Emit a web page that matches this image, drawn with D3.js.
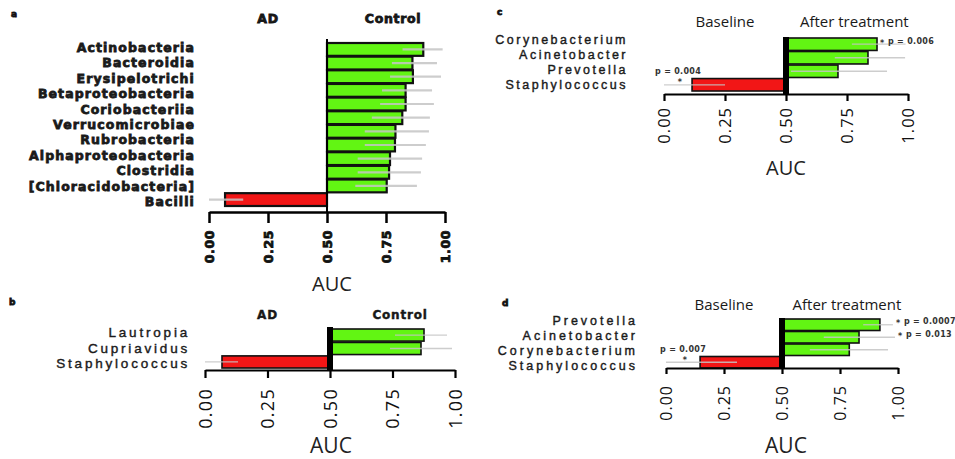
<!DOCTYPE html>
<html><head><meta charset="utf-8">
<script src="https://cdn.jsdelivr.net/npm/d3@7"></script>
<style>
html,body{margin:0;padding:0;background:#fff;}
svg{display:block;}
</style></head><body>
<svg id="chart" width="955" height="459"></svg>
<script>
// ---- a: class level, AD vs Control
const aLabels = ["Actinobacteria","Bacteroidia","Erysipelotrichi","Betaproteobacteria","Coriobacteriia","Verrucomicrobiae","Rubrobacteria","Alphaproteobacteria","Clostridia","[Chloracidobacteria]","Bacilli"];
const aAUC   = [0.908,0.862,0.864,0.833,0.833,0.819,0.790,0.788,0.767,0.763,0.753,0.068];
const aLower = [0.82,0.775,0.767,0.733,0.725,0.69,0.66,0.66,0.63,0.63,0.62,0.0];
const aUpper = [0.99,0.966,0.983,0.945,0.953,0.936,0.932,0.919,0.903,0.898,0.881,0.145];
const aGroups = ["AD","Control"];

// ---- b: genus level, AD vs Control
const bLabels = ["Lautropia","Cupriavidus","Staphylococcus"];
const bAUC   = [0.876,0.864,0.068];
const bLower = [0.76,0.74,0.0];
const bUpper = [0.968,0.988,0.132];
const bGroups = ["AD","Control"];

// ---- c: baseline vs after treatment
const cLabels = ["Corynebacterium","Acinetobacter","Prevotella","Staphylococcus"];
const cAUC   = [0.873,0.836,0.713,0.115];
const cLower = [0.77,0.70,0.52,0.0];
const cUpper = [0.99,0.988,0.914,0.25];
const cGroups = ["Baseline","After treatment"];
const cNotes = [{bar:0, text:"p = 0.006"},{bar:3, text:"p = 0.004"}];

// ---- d: baseline vs after treatment
const dLabels = ["Prevotella","Acinetobacter","Corynebacterium","Staphylococcus"];
const dAUC   = [0.922,0.832,0.790,0.147];
const dLower = [0.85,0.68,0.62,0.0];
const dUpper = [0.978,0.987,0.957,0.306];
const dGroups = ["Baseline","After treatment"];
const dNotes = [{bar:0, text:"p = 0.0007"},{bar:1, text:"p = 0.013"},{bar:3, text:"p = 0.007"}];

const tickValues = [0, 0.25, 0.5, 0.75, 1];
const panelLetters = ["a","b","c","d"];

const GREEN = "#62f513", RED = "#f21616", CI = "#c4c4c4";
const HEAVY = "'DejaVu Sans', sans-serif";
const SANS = "'Open Sans', sans-serif";
const LABEL = "'Liberation Sans', Arial, sans-serif";

const svg = d3.select("#chart");

function drawPanel(p) {
  const g = svg.append("g");
  const x = d3.scaleLinear().domain([0, 1]).range(p.xRange);
  const idx = d3.range(p.auc.length);
  const yb = d3.scaleBand().domain(idx).range(p.barRange).paddingInner(p.pad).paddingOuter(0);
  const yl = d3.scalePoint().domain(p.labels).range(p.labelRange);
  const mid = i => yb(i) + yb.bandwidth() / 2;

  // bars grow away from AUC = 0.5
  g.selectAll("rect.bar").data(idx).join("rect").attr("class", "bar")
    .attr("x", i => Math.min(x(p.auc[i]), x(0.5)))
    .attr("width", i => Math.abs(x(p.auc[i]) - x(0.5)))
    .attr("y", i => yb(i)).attr("height", yb.bandwidth())
    .attr("fill", i => p.auc[i] >= 0.5 ? GREEN : RED)
    .attr("stroke", "#111").attr("stroke-width", p.barStroke);

  // confidence intervals
  g.selectAll("line.ci").data(idx).join("line").attr("class", "ci")
    .attr("x1", i => x(p.lower[i])).attr("x2", i => x(p.upper[i]))
    .attr("y1", mid).attr("y2", mid)
    .attr("stroke", CI).attr("stroke-opacity", 0.85).attr("stroke-width", p.ciWidth);

  // reference line at 0.5
  g.append("line").attr("x1", x(0.5)).attr("x2", x(0.5))
    .attr("y1", p.centerTop).attr("y2", p.axisY)
    .attr("stroke", "#000").attr("stroke-width", p.centerWidth);

  // axis
  const axis = d3.axisBottom(x).tickValues(tickValues).tickFormat(d3.format(".2f"))
    .tickSize(p.tickLen).tickSizeOuter(0);
  const ax = g.append("g").attr("transform", `translate(0,${p.axisY})`).call(axis);
  ax.select(".domain").attr("stroke", "#000").attr("stroke-width", p.axisWidth);
  ax.selectAll(".tick line").attr("stroke", "#000").attr("stroke-width", p.axisWidth);
  ax.selectAll(".tick text")
    .attr("transform", "rotate(-90)").attr("x", -p.tickGap).attr("y", 0).attr("dy", "0.36em")
    .attr("text-anchor", "end").attr("fill", "#111")
    .style("font-family", p.tickFont.family).style("font-size", p.tickFont.size + "px")
    .style("font-weight", p.tickFont.weight).style("letter-spacing", p.tickFont.ls + "px")
    .attr("stroke", p.tickFont.stroke ? "#111" : null).attr("stroke-width", p.tickFont.stroke || null);

  // category labels
  g.selectAll("text.lab").data(p.labels).join("text").attr("class", "lab")
    .attr("x", p.labelX).attr("y", d => yl(d) + p.labelFont.size * 0.36)
    .attr("text-anchor", "end").attr("fill", "#1a1a1a")
    .style("font-family", p.labelFont.family).style("font-size", p.labelFont.size + "px")
    .style("font-weight", p.labelFont.weight).style("letter-spacing", p.labelFont.ls + "px")
    .attr("stroke", p.labelFont.stroke ? "#1a1a1a" : null).attr("stroke-width", p.labelFont.stroke || null)
    .text(d => d);

  // group headers
  g.selectAll("text.grp").data(p.groups).join("text").attr("class", "grp")
    .attr("x", (d, i) => x(i === 0 ? 0.25 : 0.78)).attr("y", p.groupY)
    .attr("text-anchor", "middle").attr("fill", "#1a1a1a")
    .style("font-family", p.groupFont.family).style("font-size", p.groupFont.size + "px")
    .style("font-weight", p.groupFont.weight).style("letter-spacing", p.groupFont.ls + "px")
    .attr("stroke", p.groupFont.stroke ? "#111" : null).attr("stroke-width", p.groupFont.stroke || null)
    .text(d => d);

  // axis title
  g.append("text").attr("x", x(0.5) + p.aucDx).attr("y", p.aucY)
    .attr("text-anchor", "middle").attr("fill", "#222")
    .style("font-family", SANS).style("font-size", p.aucSize + "px").text("AUC");

  // panel letter
  g.append("text").attr("x", p.letterPos[0]).attr("y", p.letterPos[1])
    .attr("fill", "#111").style("font-family", HEAVY).style("font-weight", "bold")
    .style("font-size", "9px").attr("stroke", "#111").attr("stroke-width", 0.8).text(p.letter);

  // significance notes
  (p.notes || []).forEach(n => {
    const i = n.bar, v = p.auc[i];
    const noteStyle = s => s.attr("fill", "#333").style("font-family", HEAVY)
      .style("font-weight", "bold").style("font-size", "8px").style("letter-spacing", "0.3px");
    if (v >= 0.5) {
      const sx = (p.noteAfter === "ci" ? Math.max(x(v), x(p.upper[i])) : x(v)) + 3;
      const sy = mid(i) - 3.5;
      g.append("text").attr("x", sx).attr("y", sy + 5).call(noteStyle).text("*");
      g.append("text").attr("x", sx + 8).attr("y", sy + 3).call(noteStyle).text(n.text);
    } else {
      const cx = (x(p.lower[i]) + x(v)) / 2;
      const top = yb(i);
      g.append("text").attr("x", cx).attr("y", top - 5).attr("text-anchor", "middle").call(noteStyle).text(n.text);
      g.append("text").attr("x", cx + 2).attr("y", top + 6).attr("text-anchor", "middle").call(noteStyle).text("*");
    }
  });
}

drawPanel({
  letter: panelLetters[0], letterPos: [11, 17],
  labels: aLabels, auc: aAUC, lower: aLower, upper: aUpper, groups: aGroups,
  xRange: [209, 445], barRange: [43, 206], labelRange: [47.5, 201.5], pad: 0.06,
  barStroke: 2.2, ciWidth: 2.2, centerTop: 39, centerWidth: 2,
  axisY: 212, axisWidth: 2.5, tickLen: 11, tickGap: 18,
  tickFont: {family: HEAVY, size: 12.5, weight: "bold", ls: 0.6, stroke: 0.8},
  labelX: 195, labelFont: {family: HEAVY, size: 12.5, weight: "bold", ls: 1.1, stroke: 0.8},
  groupY: 23, groupFont: {family: HEAVY, size: 12.5, weight: "bold", ls: 0.7, stroke: 0.8},
  aucDx: 5, aucY: 291, aucSize: 20
});

drawPanel({
  letter: panelLetters[1], letterPos: [9, 305],
  labels: bLabels, auc: bAUC, lower: bLower, upper: bUpper, groups: bGroups,
  xRange: [205, 455], barRange: [329, 368], labelRange: [332.5, 363.5], pad: 0.1,
  barStroke: 1.6, ciWidth: 1.3, centerTop: 327, centerWidth: 6,
  axisY: 370, axisWidth: 2.2, tickLen: 8, tickGap: 18,
  tickFont: {family: SANS, size: 18, weight: "normal", ls: 1.3},
  labelX: 190, labelFont: {family: LABEL, size: 13.5, weight: "normal", ls: 2.8, stroke: 0.4},
  groupY: 319, groupFont: {family: HEAVY, size: 12, weight: "bold", ls: 0.8, stroke: 0.4},
  aucDx: 1, aucY: 453, aucSize: 21
});

drawPanel({
  letter: panelLetters[2], letterPos: [497, 15],
  labels: cLabels, auc: cAUC, lower: cLower, upper: cUpper, groups: cGroups, notes: cNotes, noteAfter: "bar",
  xRange: [664, 908], barRange: [38, 91], labelRange: [39, 84], pad: 0.08,
  barStroke: 1.6, ciWidth: 1.3, centerTop: 37, centerWidth: 6,
  axisY: 94, axisWidth: 2.2, tickLen: 7, tickGap: 13,
  tickFont: {family: SANS, size: 16.5, weight: "normal", ls: 1},
  labelX: 628, labelFont: {family: LABEL, size: 12.5, weight: "normal", ls: 2.5, stroke: 0.4},
  groupY: 27, groupFont: {family: SANS, size: 15, weight: "normal", ls: 0},
  aucDx: 0, aucY: 175, aucSize: 20
});

drawPanel({
  letter: panelLetters[3], letterPos: [502, 306],
  labels: dLabels, auc: dAUC, lower: dLower, upper: dUpper, groups: dGroups, notes: dNotes, noteAfter: "ci",
  xRange: [666, 898], barRange: [319, 368], labelRange: [320.5, 365.5], pad: 0.08,
  barStroke: 1.6, ciWidth: 1.3, centerTop: 318, centerWidth: 6,
  axisY: 368, axisWidth: 2.2, tickLen: 6, tickGap: 17,
  tickFont: {family: SANS, size: 16, weight: "normal", ls: 1},
  labelX: 638, labelFont: {family: LABEL, size: 12.5, weight: "normal", ls: 3, stroke: 0.4},
  groupY: 310, groupFont: {family: SANS, size: 15, weight: "normal", ls: 0},
  aucDx: 4, aucY: 453, aucSize: 21
});
</script>
</body></html>
